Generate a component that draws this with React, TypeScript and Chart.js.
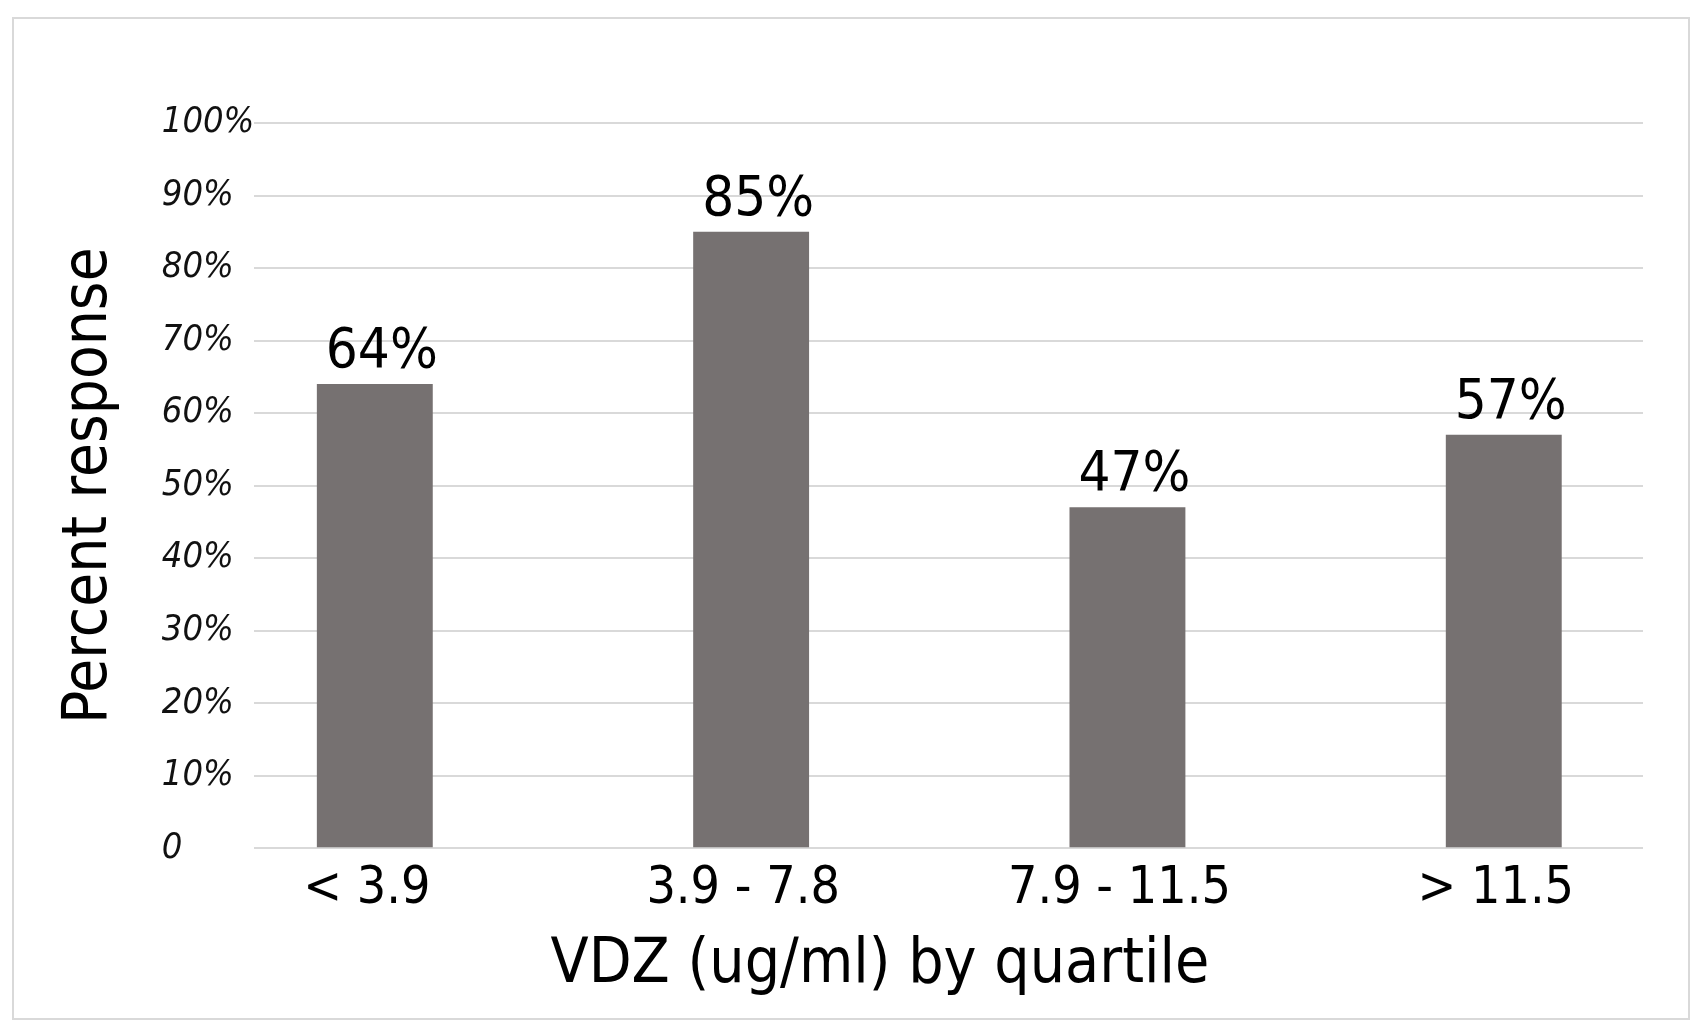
import { useEffect, useRef } from "react";
import { Chart, registerables } from "chart.js";

Chart.register(...registerables);

// quartile bins and their response rates, as printed on the bars
const CATEGORIES = ["< 3.9", "3.9 - 7.8", "7.9 - 11.5", "> 11.5"];
const RESPONSE_PCT = [64, 85, 47, 57];
const Y_TICK_LABELS = ["0", "10%", "20%", "30%", "40%", "50%", "60%", "70%", "80%", "90%", "100%"];
// the bars in the original sit a bit wider apart than the gridlines would give
const X_RANGE = [-0.32, 3.37];
const X_TITLE = "VDZ (ug/ml) by quartile";

const FONT = "'DejaVu Sans Condensed', 'DejaVu Sans', sans-serif";
const BAR_COLOR = "#767171";
const GRID_COLOR = "#d9d9d9";

// value labels above the bars
const barLabels = {
  id: "barLabels",
  afterDatasetsDraw(chart: Chart) {
    const { ctx } = chart;
    const meta = chart.getDatasetMeta(0);
    ctx.save();
    ctx.font = `56px ${FONT}`;
    ctx.fillStyle = "#000";
    ctx.textAlign = "center";
    ctx.textBaseline = "alphabetic";
    meta.data.forEach((bar, i) => {
      ctx.fillText(`${RESPONSE_PCT[i]}%`, bar.x + 7, bar.y - 17);
    });
    ctx.restore();
  },
};

// the x title in the original is not centred on the plot, so it is drawn here
const xTitle = {
  id: "xTitle",
  afterDraw(chart: Chart) {
    const { ctx, chartArea } = chart;
    ctx.save();
    ctx.font = `62px ${FONT}`;
    ctx.fillStyle = "#000";
    ctx.textAlign = "center";
    ctx.textBaseline = "alphabetic";
    const x = chartArea.left + (chartArea.right - chartArea.left) * 0.4505;
    ctx.fillText(X_TITLE, x, chartArea.bottom + 134);
    ctx.restore();
  },
};

export default function App() {
  const canvasRef = useRef<HTMLCanvasElement>(null);

  useEffect(() => {
    if (!canvasRef.current) return;

    const chart = new Chart(canvasRef.current, {
      type: "bar",
      data: {
        datasets: [
          {
            label: "Percent response",
            data: RESPONSE_PCT.map((v, i) => ({ x: i, y: v })),
            xAxisID: "x",
            yAxisID: "y",
            backgroundColor: BAR_COLOR,
            categoryPercentage: 1,
            barPercentage: 0.308,
          },
        ],
      },
      options: {
        animation: false,
        responsive: true,
        maintainAspectRatio: false,
        layout: { padding: { top: 104, right: 45, bottom: 86, left: 0 } },
        plugins: {
          legend: { display: false },
          tooltip: { enabled: false },
        },
        scales: {
          x: {
            type: "linear",
            bounds: "data",
            offset: false,
            min: X_RANGE[0],
            max: X_RANGE[1],
            afterBuildTicks: (scale) => {
              scale.ticks = CATEGORIES.map((_, i) => ({ value: i }));
            },
            grid: { display: false, drawTicks: false },
            border: { display: false },
            ticks: {
              padding: 11,
              labelOffset: -8,
              color: "#000",
              font: { family: FONT, size: 51.5 },
              callback: (v) => CATEGORIES[Number(v)] ?? "",
            },
          },
          // holds only the axis title, so the tick labels can sit flush left
          yTitle: {
            type: "linear",
            position: "left",
            weight: 1,
            grid: { display: false, drawTicks: false },
            border: { display: false },
            ticks: { display: false },
            title: {
              display: true,
              text: "Percent response",
              color: "#000",
              font: { family: FONT, size: 61.5 },
              padding: { top: 39, bottom: 35 },
            },
          },
          y: {
            position: "left",
            min: 0,
            max: 100,
            grid: { color: GRID_COLOR, lineWidth: 2, drawTicks: false },
            border: { display: false },
            ticks: {
              stepSize: 10,
              padding: 0,
              crossAlign: "far",
              color: "#111",
              font: { family: FONT, size: 36, style: "italic" },
              callback: (v) => Y_TICK_LABELS[Number(v) / 10] ?? "",
            },
          },
        },
      },
      plugins: [barLabels, xTitle],
    });

    return () => chart.destroy();
  }, []);

  return (
    <div
      style={{
        position: "absolute",
        left: 12,
        top: 17,
        width: 1678,
        height: 1003,
        border: `2px solid ${GRID_COLOR}`,
        boxSizing: "border-box",
        background: "#fff",
      }}
    >
      <div style={{ position: "relative", width: "100%", height: "100%" }}>
        <canvas ref={canvasRef}></canvas>
      </div>
    </div>
  );
}
